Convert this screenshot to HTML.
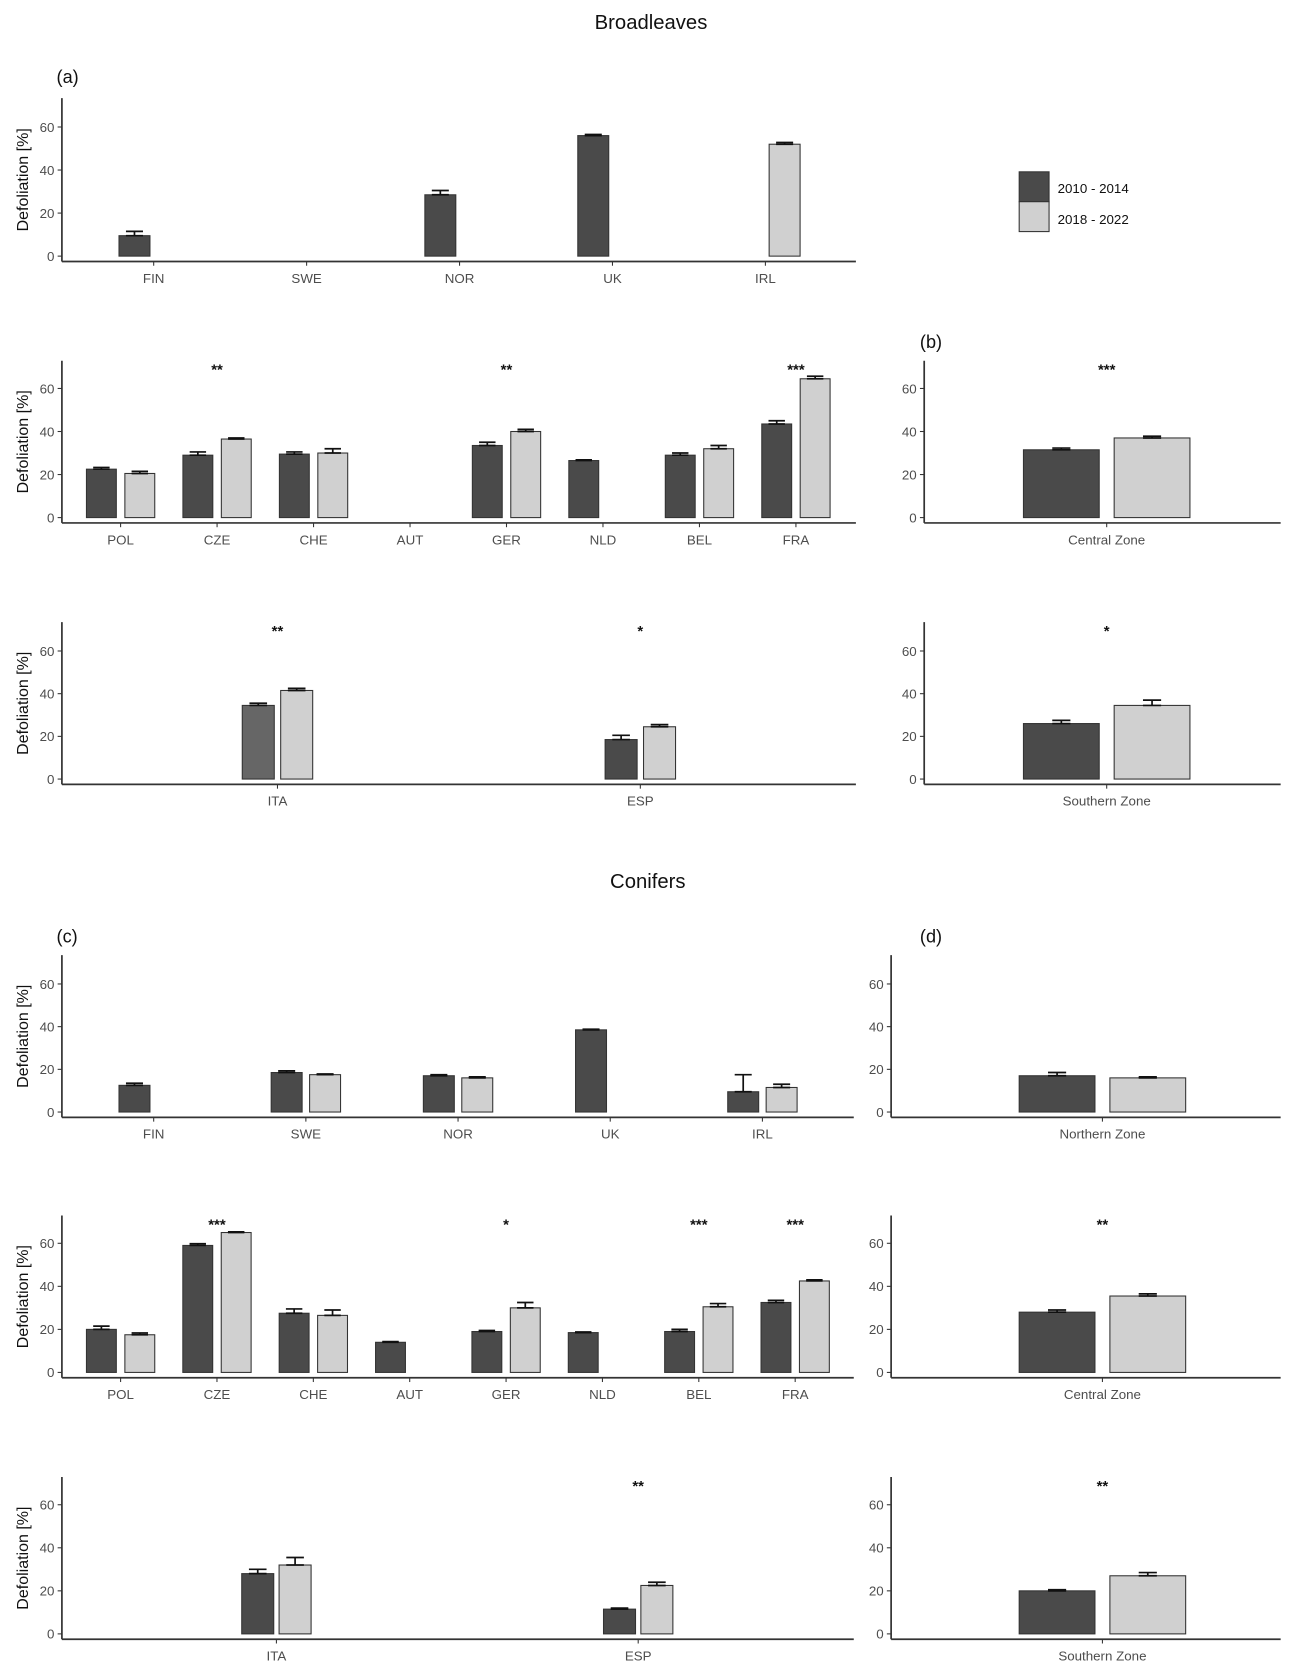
<!DOCTYPE html>
<html><head><meta charset="utf-8">
<style>
html,body{margin:0;padding:0;background:#fff;}
svg{display:block;font-family:"Liberation Sans",Arial,sans-serif;}
</style></head>
<body>
<svg id="chart" width="1302" height="1677" viewBox="0 0 1220 1571.4" xmlns="http://www.w3.org/2000/svg">
<text x="610" y="27" text-anchor="middle" font-size="19" fill="#111">Broadleaves</text>
<text x="607" y="832" text-anchor="middle" font-size="19" fill="#111">Conifers</text>
<text x="53" y="78" font-size="17" fill="#111">(a)</text>
<text x="862" y="326" font-size="17" fill="#111">(b)</text>
<text x="53" y="883" font-size="17" fill="#111">(c)</text>
<text x="862" y="883" font-size="17" fill="#111">(d)</text>
<g>
<rect x="955" y="161" width="28" height="28" fill="#4a4a4a" stroke="#333"/>
<rect x="955" y="189" width="28" height="28" fill="#d0d0d0" stroke="#333"/>
<text x="991" y="181" font-size="12.5" fill="#111">2010 - 2014</text>
<text x="991" y="210" font-size="12.5" fill="#111">2018 - 2022</text>
</g>
</svg>
<script>
// ---- data ----
const yTicks = [0, 20, 40, 60];
const catsNorth = ["FIN","SWE","NOR","UK","IRL"];
const catsCentral = ["POL","CZE","CHE","AUT","GER","NLD","BEL","FRA"];
const catsSouth = ["ITA","ESP"];
// Broadleaves
const blNorthDark = [9.5, null, 28.5, 56, null];
const blNorthDarkErr = [2, 0, 2, 0.5, 0];
const blNorthLight = [null, null, null, null, 52];
const blNorthLightErr = [0, 0, 0, 0, 0.8];
const blCentralDark = [22.5, 29, 29.5, null, 33.5, 26.5, 29, 43.5];
const blCentralDarkErr = [0.8, 1.5, 1, 0, 1.5, 0.3, 1, 1.5];
const blCentralLight = [20.5, 36.5, 30, null, 40, null, 32, 64.5];
const blCentralLightErr = [1, 0.5, 2, 0, 1, 0, 1.5, 1.2];
const blCentralSig = ["", "**", "", "", "**", "", "", "***"];
const blSouthDark = [34.5, 18.5];
const blSouthDarkErr = [1, 2];
const blSouthLight = [41.5, 24.5];
const blSouthLightErr = [1, 1];
const blSouthSig = ["**", "*"];
const blCentralZone = [31.5, 37]; const blCentralZoneErr = [0.8, 0.8]; const blCentralZoneSig = "***";
const blSouthZone = [26, 34.5]; const blSouthZoneErr = [1.5, 2.5]; const blSouthZoneSig = "*";
// Conifers
const coNorthDark = [12.5, 18.5, 17, 38.5, 9.5];
const coNorthDarkErr = [1, 0.8, 0.5, 0.3, 8];
const coNorthLight = [null, 17.5, 16, null, 11.5];
const coNorthLightErr = [0, 0.3, 0.5, 0, 1.5];
const coCentralDark = [20, 59, 27.5, 14, 19, 18.5, 19, 32.5];
const coCentralDarkErr = [1.5, 0.8, 2, 0.3, 0.5, 0.3, 1, 1];
const coCentralLight = [17.5, 65, 26.5, null, 30, null, 30.5, 42.5];
const coCentralLightErr = [0.8, 0.3, 2.5, 0, 2.5, 0, 1.5, 0.5];
const coCentralSig = ["", "***", "", "", "*", "", "***", "***"];
const coSouthDark = [28, 11.5];
const coSouthDarkErr = [2, 0.5];
const coSouthLight = [32, 22.5];
const coSouthLightErr = [3.5, 1.5];
const coSouthSig = ["", "**"];
const coNorthZone = [17, 16]; const coNorthZoneErr = [1.5, 0.5]; const coNorthZoneSig = "";
const coCentralZone = [28, 35.5]; const coCentralZoneErr = [1, 1]; const coCentralZoneSig = "**";
const coSouthZone = [20, 27]; const coSouthZoneErr = [0.5, 1.5]; const coSouthZoneSig = "**";

const NS = "http://www.w3.org/2000/svg";
const svg = document.getElementById("chart");
function mk(tag, attrs, parent, text) {
  const e = document.createElementNS(NS, tag);
  for (const k in attrs) e.setAttribute(k, attrs[k]);
  if (text !== undefined) e.textContent = text;
  (parent || svg).appendChild(e);
  return e;
}

// p: {x0,x1,top,zero,cats,centers(fn),barW,off,dark,darkErr,light,lightErr,sig,ytitle,name,darkColor}
function panel(p) {
  const g = mk("g", {});
  
  
  const axisY = p.zero + 5;
  const y = v => p.zero - v * (p.zero - p.y60) / 60;
  // axes
  const ya = mk("line", {x1:p.x0, x2:p.x0, y1:p.top, y2:axisY, stroke:"#333", "stroke-width":1.6}, g);
  
  
  const xa = mk("line", {x1:p.x0, x2:p.x1, y1:axisY, y2:axisY, stroke:"#333", "stroke-width":1.6}, g);
  
  
  yTicks.forEach(t => {
    mk("line", {x1:p.x0-4, x2:p.x0, y1:y(t), y2:y(t), stroke:"#333"}, g);
    const tl = mk("text", {x:p.x0-7, y:y(t)+4.5, "text-anchor":"end", "font-size":12.5, fill:"#4d4d4d"}, g, String(t));
    
    
  });
  if (p.ytitle) {
    const cy = (p.top + axisY) / 2;
    const yt = mk("text", {x:0, y:0, transform:`translate(26,${cy}) rotate(-90)`, "text-anchor":"middle", "font-size":15, fill:"#111"}, g, "Defoliation [%]");
    
    
  }
  p.cats.forEach((c, i) => {
    const cx = p.centers[i];
    mk("line", {x1:cx, x2:cx, y1:axisY, y2:axisY+4, stroke:"#333"}, g);
    const xl = mk("text", {x:cx, y:axisY+20, "text-anchor":"middle", "font-size":12.5, fill:"#4d4d4d"}, g, c);
    
    
    [[p.dark, p.darkErr, -1, p.darkColor ? p.darkColor[i] : "#4a4a4a"], [p.light, p.lightErr, 1, "#d0d0d0"]].forEach(([vals, errs, s, col]) => {
      const v = vals[i];
      if (v === null || v === undefined) return;
      const bc = cx + s * p.off;
      const r = mk("rect", {x:bc - p.barW/2, y:y(v), width:p.barW, height:p.zero - y(v), fill:col, stroke:"#333", "stroke-width":1}, g);
      
      
      const e = errs[i] || 0;
      const eb = mk("g", {stroke:"#111", "stroke-width":1.6}, g);
      
      
      const cw = Math.min(p.barW * 0.55, 17) / 2;
      mk("line", {x1:bc, x2:bc, y1:y(v), y2:y(v+e)}, eb);
      mk("line", {x1:bc-cw, x2:bc+cw, y1:y(v+e), y2:y(v+e)}, eb);
      mk("line", {x1:bc-cw, x2:bc+cw, y1:y(v), y2:y(v)}, eb);
    });
    if (p.sig && p.sig[i]) {
      const st = mk("text", {x:cx, y:p.top+13, "text-anchor":"middle", "font-size":14, "font-weight":"bold", fill:"#111"}, g, p.sig[i]);
      
      
    }
  });
}
function spaced(n, first, step) { return Array.from({length:n}, (_, i) => first + i * step); }

// Broadleaves
panel({name:"panel-a-broadleaves-north", x0:58, x1:802, top:92, zero:240, y60:119, cats:catsNorth, centers:spaced(5,144,143.3), barW:29, off:18,
  dark:blNorthDark, darkErr:blNorthDarkErr, light:blNorthLight, lightErr:blNorthLightErr, ytitle:true});
panel({name:"panel-broadleaves-central", x0:58, x1:802, top:338, zero:485, y60:364, cats:catsCentral, centers:spaced(8,113,90.4), barW:28, off:18,
  dark:blCentralDark, darkErr:blCentralDarkErr, light:blCentralLight, lightErr:blCentralLightErr, sig:blCentralSig, ytitle:true});
panel({name:"panel-broadleaves-south", x0:58, x1:802, top:583, zero:730, y60:610, cats:catsSouth, centers:[260,600], barW:30, off:18,
  dark:blSouthDark, darkErr:blSouthDarkErr, light:blSouthLight, lightErr:blSouthLightErr, sig:blSouthSig, ytitle:true, darkColor:["#666666","#4a4a4a"]});
panel({name:"panel-b-broadleaves-central-zone", x0:866, x1:1200, top:338, zero:485, y60:364, cats:["Central Zone"], centers:[1037], barW:71, off:42.5,
  dark:[blCentralZone[0]], darkErr:[blCentralZoneErr[0]], light:[blCentralZone[1]], lightErr:[blCentralZoneErr[1]], sig:[blCentralZoneSig]});
panel({name:"panel-broadleaves-southern-zone", x0:866, x1:1200, top:583, zero:730, y60:610, cats:["Southern Zone"], centers:[1037], barW:71, off:42.5,
  dark:[blSouthZone[0]], darkErr:[blSouthZoneErr[0]], light:[blSouthZone[1]], lightErr:[blSouthZoneErr[1]], sig:[blSouthZoneSig]});
// Conifers
panel({name:"panel-c-conifers-north", x0:58, x1:800, top:895, zero:1042, y60:922, cats:catsNorth, centers:spaced(5,144,142.6), barW:29, off:18,
  dark:coNorthDark, darkErr:coNorthDarkErr, light:coNorthLight, lightErr:coNorthLightErr, ytitle:true});
panel({name:"panel-conifers-central", x0:58, x1:800, top:1139, zero:1286, y60:1165, cats:catsCentral, centers:spaced(8,113,90.3), barW:28, off:18,
  dark:coCentralDark, darkErr:coCentralDarkErr, light:coCentralLight, lightErr:coCentralLightErr, sig:coCentralSig, ytitle:true});
panel({name:"panel-conifers-south", x0:58, x1:800, top:1384, zero:1531, y60:1410, cats:catsSouth, centers:[259,598], barW:30, off:17.5,
  dark:coSouthDark, darkErr:coSouthDarkErr, light:coSouthLight, lightErr:coSouthLightErr, sig:coSouthSig, ytitle:true});
panel({name:"panel-d-conifers-northern-zone", x0:835, x1:1200, top:895, zero:1042, y60:922, cats:["Northern Zone"], centers:[1033], barW:71, off:42.5,
  dark:[coNorthZone[0]], darkErr:[coNorthZoneErr[0]], light:[coNorthZone[1]], lightErr:[coNorthZoneErr[1]], sig:[coNorthZoneSig]});
panel({name:"panel-conifers-central-zone", x0:835, x1:1200, top:1139, zero:1286, y60:1165, cats:["Central Zone"], centers:[1033], barW:71, off:42.5,
  dark:[coCentralZone[0]], darkErr:[coCentralZoneErr[0]], light:[coCentralZone[1]], lightErr:[coCentralZoneErr[1]], sig:[coCentralZoneSig]});
panel({name:"panel-conifers-southern-zone", x0:835, x1:1200, top:1384, zero:1531, y60:1410, cats:["Southern Zone"], centers:[1033], barW:71, off:42.5,
  dark:[coSouthZone[0]], darkErr:[coSouthZoneErr[0]], light:[coSouthZone[1]], lightErr:[coSouthZoneErr[1]], sig:[coSouthZoneSig]});
</script>
</body></html>
